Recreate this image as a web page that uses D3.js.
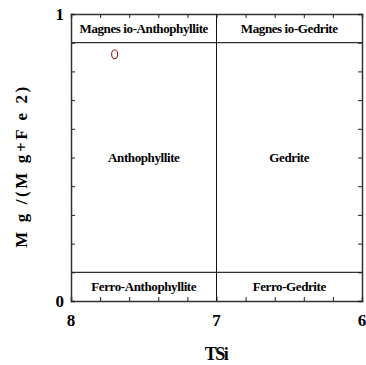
<!DOCTYPE html>
<html><head><meta charset="utf-8">
<script src="https://cdn.jsdelivr.net/npm/d3@7"></script>
<style>
html,body{margin:0;padding:0;background:#fff;}
svg{display:block;}
</style></head>
<body>
<svg id="c" width="366" height="365"></svg>
<script>
// ---- data ----
const xDomain = [8, 6];
const yDomain = [0, 1];
const xTickLabels = [8, 7, 6];
const yTickLabels = [0, 1];
const xMinorTicks = [8, 7.8, 7.6, 7.4, 7.2, 7, 6.8, 6.6, 6.4, 6.2, 6];
const yMinorTicks = [0, 0.1, 0.2, 0.3, 0.4, 0.5, 0.6, 0.7, 0.8, 0.9, 1];
const boundaryX = [7];
const boundaryY = [0.1, 0.9];
const regionNames = ["Magnes io-Anthophyllite", "Magnes io-Gedrite", "Anthophyllite", "Gedrite", "Ferro-Anthophyllite", "Ferro-Gedrite"];
const regionX = [7.5, 6.5, 7.5, 6.5, 7.5, 6.5];
const regionY = [0.95, 0.95, 0.5, 0.5, 0.05, 0.05];
const sampleTSi = [7.70];
const sampleMg = [0.86];
const xTitle = "TSi";
const yTitle = "M g /(M g+F e 2)";

// ---- layout ----
const FONT = "'Liberation Serif'";
const L = 71, R = 362, T = 14, B = 301;
const svg = d3.select("#c");
const x = d3.scaleLinear().domain(xDomain).range([L, R]);
const y = d3.scaleLinear().domain(yDomain).range([B, T]);

// boundary lines
svg.selectAll("line.bx").data(boundaryX).enter().append("line")
  .attr("x1", d => x(d)).attr("x2", d => x(d)).attr("y1", T).attr("y2", B)
  .attr("stroke", "#111").attr("stroke-width", 1);
svg.selectAll("line.by").data(boundaryY).enter().append("line")
  .attr("x1", L).attr("x2", R).attr("y1", d => y(d)).attr("y2", d => y(d))
  .attr("stroke", "#333").attr("stroke-width", 1.3);

// axes with inward ticks
const tick = 4;
const axB = d3.axisBottom(x).tickValues(xMinorTicks).tickSize(-tick).tickFormat("");
const axT = d3.axisTop(x).tickValues(xMinorTicks).tickSize(-tick).tickFormat("");
const axL = d3.axisLeft(y).tickValues(yMinorTicks).tickSize(-tick).tickFormat("");
const axR = d3.axisRight(y).tickValues(yMinorTicks).tickSize(-tick).tickFormat("");
[[axB, `translate(0,${B})`], [axT, `translate(0,${T})`], [axL, `translate(${L},0)`], [axR, `translate(${R},0)`]].forEach(([a, tr]) => {
  const g = svg.append("g").attr("transform", tr).call(a);
  g.select(".domain").attr("stroke", "#333").attr("stroke-width", 1.5);
  g.selectAll(".tick line").attr("stroke", "#222").attr("stroke-width", 1);
});

const txt = svg.append("g");
function styled(sel, size, ls) {
  return sel.style("font-family", FONT).style("font-weight", "bold").style("font-size", size + "px")
    .style("letter-spacing", ls + "px").style("fill", "#000");
}

// tick labels
styled(txt.selectAll("text.xl").data(xTickLabels).enter().append("text")
  .attr("x", d => x(d)).attr("y", 326).attr("text-anchor", "middle"), 17, 0).text(d => d);
styled(txt.selectAll("text.yl").data(yTickLabels).enter().append("text")
  .attr("x", 64).attr("y", d => y(d) + 6).attr("text-anchor", "end"), 17, 0).text(d => d);

// region labels
styled(txt.selectAll("text.rg").data(regionNames).enter().append("text")
  .attr("x", (d, i) => x(regionX[i])).attr("y", (d, i) => y(regionY[i]) + 4.5)
  .attr("text-anchor", "middle"), 13, -0.4).text(d => d);

// sample point
svg.selectAll("ellipse.pt").data(sampleTSi).enter().append("ellipse")
  .attr("cx", d => x(d)).attr("cy", (d, i) => y(sampleMg[i]))
  .attr("rx", 3).attr("ry", 4.5).attr("fill", "none")
  .attr("stroke", "#a01818").attr("stroke-width", 1.1);

// titles
styled(txt.append("text").attr("x", 216).attr("y", 360).attr("text-anchor", "middle"), 18, -1.5).text(xTitle);
styled(txt.append("text").attr("transform", "translate(27,166) rotate(-90)")
  .attr("text-anchor", "middle"), 17, 2.6).text(yTitle);
</script>
</body></html>
